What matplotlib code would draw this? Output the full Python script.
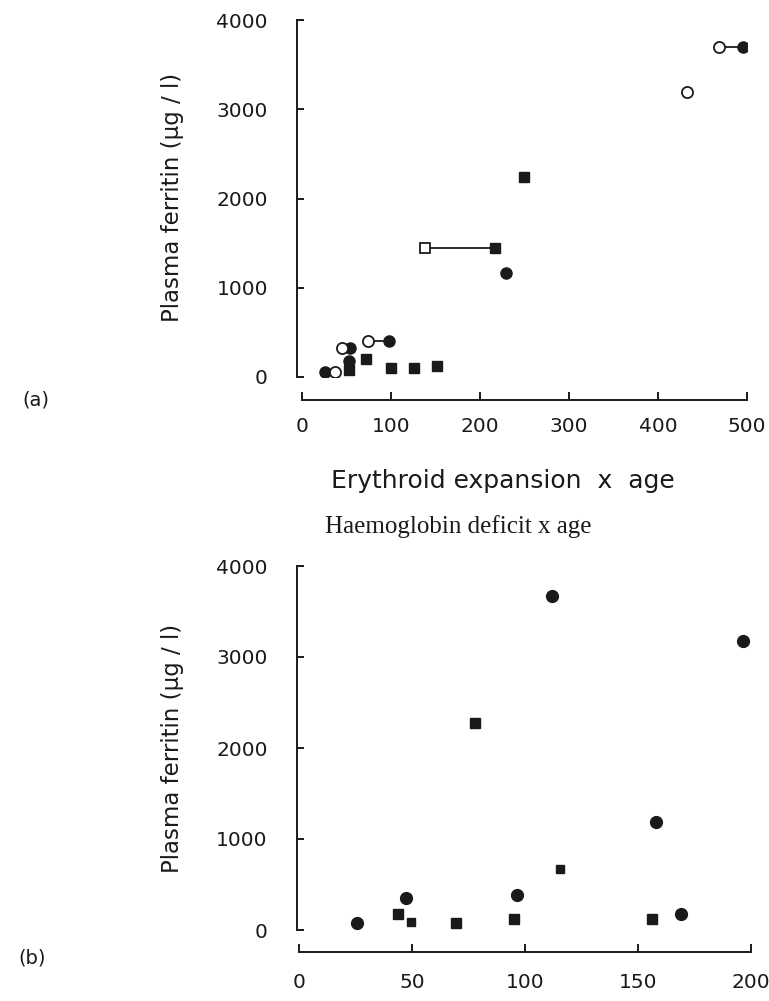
import matplotlib
matplotlib.use("Agg")
import matplotlib.pyplot as plt

# ---- panel (a): erythroid expansion x age ----
a_fc_x = [26, 54, 53, 98, 229, 496]          # filled circles
a_fc_y = [60, 325, 180, 403, 1165, 3697]
a_oc_x = [37, 45, 74, 433, 469]               # open circles
a_oc_y = [60, 325, 403, 3193, 3697]
a_fs_x = [53, 72, 100, 126, 152, 217, 249]    # filled squares
a_fs_y = [78, 200, 100, 100, 123, 1445, 2240]
a_os_x = [138]                                # open squares
a_os_y = [1445]
# joined pairs (open -> filled, same patient)
a_links = [((74, 98), 403), ((138, 217), 1445), ((469, 496), 3697)]

# ---- panel (b): haemoglobin deficit x age ----
b_fc_x = [25.7, 47.3, 96.5, 169, 158, 196.5, 112]
b_fc_y = [77, 352, 385, 176, 1187, 3176, 3670]
b_fs_x = [43.8, 69.5, 95, 156, 78]
b_fs_y = [176, 77, 121, 121, 2275]
b_ss_x = [49.6, 115.5]                        # small squares
b_ss_y = [88, 670]

a_xticks = [0, 100, 200, 300, 400, 500]
b_xticks = [0, 50, 100, 150, 200]
yticks = [0, 1000, 2000, 3000, 4000]

W, H = 769, 1001
fig = plt.figure(figsize=(W / 100, H / 100), dpi=100)
fig.patch.set_facecolor("white")

ink = "#1a1a1a"
fs_tick = 14.5


def style(ax, xticks, xlim, xout, yout, xpad):
    ax.set_xlim(*xlim)
    ax.set_ylim(0, 4000)
    for s in ["top", "right"]:
        ax.spines[s].set_visible(False)
    ax.spines["left"].set_position(("outward", yout))
    ax.spines["bottom"].set_position(("outward", xout))
    ax.spines["left"].set_bounds(0, 4000)
    ax.spines["bottom"].set_bounds(xlim[0], xlim[1])
    for s in ["left", "bottom"]:
        ax.spines[s].set_linewidth(1.4)
        ax.spines[s].set_color(ink)
    ax.set_xticks(xticks)
    ax.set_yticks(yticks)
    ax.tick_params(axis="y", direction="in", length=5, width=1.4, pad=21,
                   labelsize=fs_tick, colors=ink)
    ax.tick_params(axis="x", direction="in", length=6, width=1.4, pad=xpad,
                   labelsize=fs_tick, colors=ink)
    ax.patch.set_alpha(0)


# panel (a)
axa = fig.add_axes([302 / W, 1 - 377 / H, 445 / W, 357 / H])
style(axa, a_xticks, (0, 500), 16.5, 3.6, 12)
for (x0, x1), yy in a_links:
    axa.plot([x0, x1], [yy, yy], color=ink, lw=1.3, zorder=1)
axa.plot(a_fc_x, a_fc_y, "o", ms=8, color=ink, mec=ink, ls="none", zorder=3)
axa.plot(a_oc_x, a_oc_y, "o", ms=8, mfc="white", mec=ink, mew=1.3, ls="none", zorder=3)
axa.plot(a_fs_x, a_fs_y, "s", ms=6.5, color=ink, mec=ink, ls="none", zorder=3)
axa.plot(a_os_x, a_os_y, "s", ms=6.5, mfc="white", mec=ink, mew=1.3, ls="none", zorder=3)

# panel (b)
axb = fig.add_axes([299 / W, 1 - 930 / H, 452 / W, 364 / H])
style(axb, b_xticks, (0, 200), 15.8, 1.5, 15)
axb.plot(b_fc_x, b_fc_y, "o", ms=8.5, color=ink, mec=ink, ls="none")
axb.plot(b_fs_x, b_fs_y, "s", ms=7, color=ink, mec=ink, ls="none")
axb.plot(b_ss_x, b_ss_y, "s", ms=5.5, color=ink, mec=ink, ls="none")

# labels
ylab = "Plasma ferritin (µg / l)"
fig.text(172 / W, 1 - 197 / H, ylab, rotation=90, ha="center", va="center",
         fontsize=16.5, color=ink)
fig.text(172 / W, 1 - 748 / H, ylab, rotation=90, ha="center", va="center",
         fontsize=16.5, color=ink)
fig.text(503 / W, 1 - 481 / H, "Erythroid expansion  x  age", ha="center",
         va="center", fontsize=18, color=ink)
fig.text(458 / W, 1 - 527 / H, "Haemoglobin deficit x age", ha="center",
         va="center", fontsize=18, family="Liberation Serif", color=ink)
fig.text(22 / W, 1 - 400 / H, "(a)", ha="left", va="center", fontsize=14, color=ink)
fig.text(18 / W, 1 - 958 / H, "(b)", ha="left", va="center", fontsize=14, color=ink)

fig.savefig("out.png", dpi=100, facecolor="white")
